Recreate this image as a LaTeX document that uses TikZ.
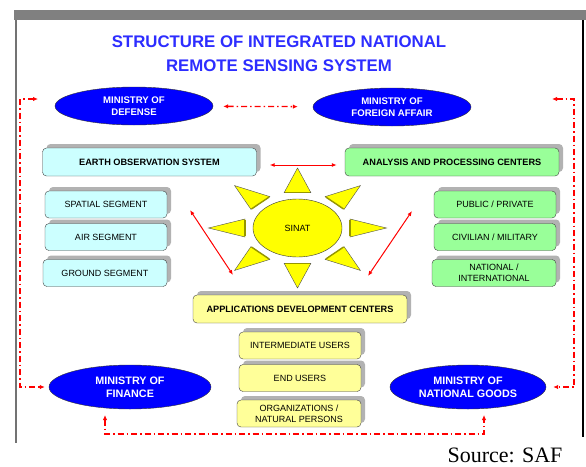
\documentclass[tikz,border=0pt]{standalone}
\usepackage{fontspec}
\setmainfont{Liberation Sans}
\newfontfamily\srcfont{Liberation Serif}
\usepackage{xcolor}
\usetikzlibrary{shapes.geometric,arrows.meta,shadows}

\definecolor{titleblue}{RGB}{45,45,255}
\definecolor{minblue}{RGB}{0,0,255}
\definecolor{cyanbox}{RGB}{204,255,255}
\definecolor{greenbox}{RGB}{153,255,153}
\definecolor{yellowbox}{RGB}{255,255,153}
\definecolor{sunyellow}{RGB}{255,255,0}
\definecolor{rayedge}{RGB}{150,150,0}

\begin{document}
\begin{tikzpicture}[x=1pt, y=-1pt]
					\useasboundingbox (0,0) rectangle (586,466);
					\fill[gray] (14,10) rectangle (586,20);
					\draw[black!55, line width=2pt] (16,20) -- (16,443);
					\draw[black, line width=1.5pt] (583,20) -- (583,437);
					
					\node[align=center, text=titleblue, font=\bfseries\fontsize{16.8}{23.5}\selectfont] (title) at (279,53.5) {STRUCTURE OF INTEGRATED NATIONAL\\REMOTE SENSING SYSTEM};
					
					\begin{scope}[
						ministry/.style={ellipse, draw=black!80, fill=minblue, text=white, align=center, inner sep=0pt, minimum width=158pt, minimum height=38pt, font=\bfseries\fontsize{9.6}{12}\selectfont},
						bigministry/.style={ministry, minimum height=44pt, font=\bfseries\fontsize{10.8}{13}\selectfont}]
						\node[ministry] (def) at (134,106) {MINISTRY OF\\DEFENSE};
						\node[ministry] (for) at (392,107) {MINISTRY OF\\FOREIGN AFFAIR};
						\node[bigministry, minimum width=162pt] (fin) at (130,387) {MINISTRY OF\\FINANCE};
						\node[bigministry, minimum width=156pt] (ng) at (468,387) {MINISTRY OF\\NATIONAL GOODS};
					\end{scope}
					
					\begin{scope}[
						box/.style={draw=black!75, rounded corners=4pt, align=center, inner sep=0pt, minimum width=122pt, minimum height=27pt, font=\fontsize{9}{11}\selectfont, drop shadow={shadow xshift=4pt, shadow yshift=4pt, fill=black!30, opacity=1}},
						headbox/.style={box, minimum width=214pt, minimum height=28pt, font=\bfseries\fontsize{9.2}{11}\selectfont}]
						\node[headbox, fill=cyanbox] (eos) at (149.5,162) {EARTH OBSERVATION SYSTEM};
						\node[headbox, fill=greenbox] (apc) at (452,162) {ANALYSIS AND PROCESSING CENTERS};
						\node[headbox, fill=yellowbox] (adc) at (300,309) {APPLICATIONS DEVELOPMENT CENTERS};
						
						\node[box, fill=cyanbox] (spatial) at (106,204.5) {SPATIAL SEGMENT};
						\node[box, fill=cyanbox] (air) at (106,237) {AIR SEGMENT};
						\node[box, fill=cyanbox, minimum width=124pt] (ground) at (105,273) {GROUND SEGMENT};
						
						\node[box, fill=greenbox] (public) at (495,204.5) {PUBLIC / PRIVATE};
						\node[box, fill=greenbox] (civil) at (495,237) {CIVILIAN / MILITARY};
						\node[box, fill=greenbox, minimum width=124pt] (nation) at (494,273) {NATIONAL /\\INTERNATIONAL};
						
						\node[box, fill=yellowbox] (inter) at (300,345.5) {INTERMEDIATE USERS};
						\node[box, fill=yellowbox] (endu) at (300,378) {END USERS};
						\node[box, fill=yellowbox, minimum width=124pt] (org) at (299,413.5) {ORGANIZATIONS /\\NATURAL PERSONS};
					\end{scope}
					
					\node[ellipse, draw=black!80, fill=sunyellow, minimum width=89pt, minimum height=58pt, inner sep=0pt, font=\fontsize{9}{11}\selectfont] (sinat) at (297.5,228) {SINAT};
					\begin{scope}[shift={(sinat.center)}, xscale=89, yscale=60]
						\foreach \ang in {0,45,...,315} {
							\filldraw[fill=sunyellow, draw=black!70, rotate=\ang] (1,0) -- (0.59,0.15) -- (0.59,-0.15) -- cycle;
							\draw[rayedge, line width=1.4pt, rotate=\ang] (0.59,0.14) -- (0.59,-0.14);
						}
					\end{scope}
					
					\tikzset{
						redlink/.style={draw=red, line width=1pt, {Latex[length=5pt,width=4pt]}-{Latex[length=5pt,width=4pt]}},
						dashlink/.style={draw=red, line width=1.3pt, dash pattern=on 6pt off 3pt on 1.5pt off 3pt, {Latex[length=5pt,width=4.5pt]}-{Latex[length=5pt,width=4.5pt]}}}
					
					\coordinate (lu) at (190,210);
					\coordinate (ld) at (233,275);
					\coordinate (ru) at (412,211);
					\coordinate (rd) at (368,276);
					\draw[redlink, shorten <=13pt, shorten >=8pt] ([yshift=-3pt]eos.east) -- ([yshift=-3pt]apc.west);
					\draw[redlink] (lu) -- (ld);
					\draw[redlink] (ru) -- (rd);
					
					\coordinate (ltop) at (38,99);
					\coordinate (lcorner) at (20,387);
					\coordinate (rtop) at (552,99);
					\coordinate (rcorner) at (574,387);
					\coordinate (bl) at (105,415);
					\coordinate (bcorner) at (484,434);
					\coordinate (br) at (484,415);
					\draw[dashlink, shorten <=10pt, shorten >=15pt] (def) -- (for);
					\draw[dashlink] (ltop) -| (lcorner) -- ([xshift=-4pt]fin.west);
					\draw[dashlink] (rtop) -| (rcorner) -- ([xshift=7pt]ng.east);
					\draw[dashlink] (bl) |- (bcorner) -- (br);
					
					\node[anchor=base east, font=\srcfont\fontsize{22}{24}\selectfont] (src) at (566,462) {Source: SAF};
				\end{tikzpicture}
\end{document}
